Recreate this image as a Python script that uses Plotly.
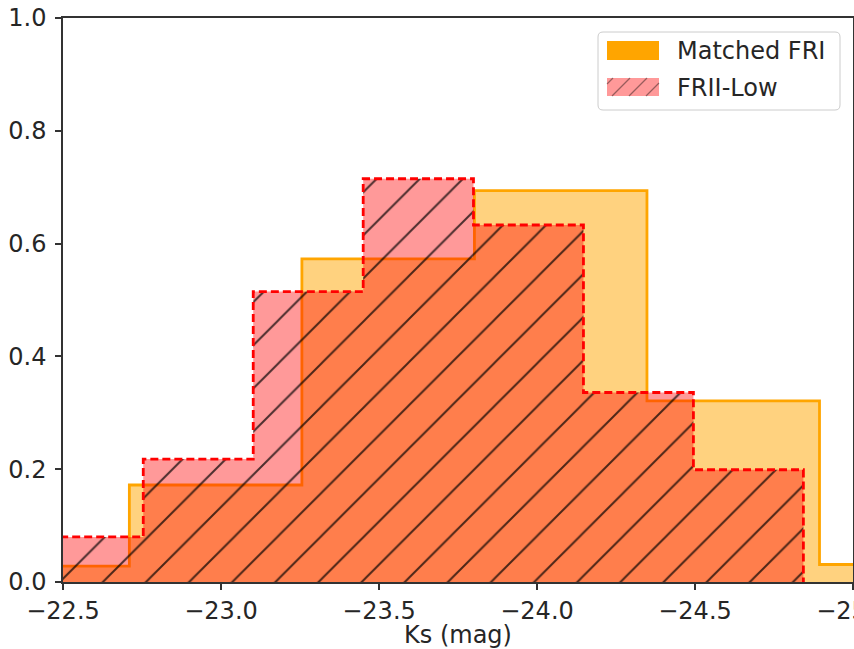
import plotly.graph_objects as go

# Ks-band magnitude distributions (density-normalised); bin edges in mag
fri_edges = [-22.164, -22.710, -23.256, -23.802, -24.348, -24.894, -25.440]
fri_density = [0.028, 0.172, 0.573, 0.694, 0.321, 0.031]

frii_edges = [-22.406, -22.754, -23.102, -23.450, -23.799, -24.147, -24.495, -24.843]
frii_density = [0.080, 0.218, 0.515, 0.715, 0.633, 0.336, 0.199]

series_names = ["Matched FRI", "FRII-Low"]

x_ticks = [-22.5, -23.0, -23.5, -24.0, -24.5, -25.0]
x_ticktext = ["−22.5", "−23.0", "−23.5", "−24.0", "−24.5", "−25.0"]
y_ticks = [0.0, 0.2, 0.4, 0.6, 0.8, 1.0]
y_ticktext = ["0.0", "0.2", "0.4", "0.6", "0.8", "1.0"]
x_title = "Ks (mag)"

ORANGE = "#FFA500"
ORANGE_FILL = "rgba(255,165,0,0.5)"
RED = "#FF0000"
RED_FILL = "rgba(255,0,0,0.4)"
AXIS = "#333333"
TEXT = "#262626"

# plot-area geometry in pixels (used for the hand-drawn legend)
W, H = 854, 649
ML, MR, MT, MB = 63, 1, 18, 67
PW, PH = W - ML - MR, H - MT - MB


def px(xp):
    return (xp - ML) / PW


def py(yp):
    return (MT + PH - yp) / PH


def step_outline(edges, heights):
    """Closed step polygon of a 'stepfilled' histogram."""
    xs = [edges[0]] + list(edges[:-1]) + [edges[-1]]
    ys = [0.0] + list(heights) + [0.0]
    return xs, ys


fig = go.Figure()

fx, fy = step_outline(fri_edges, fri_density)
fig.add_trace(go.Scatter(
    x=fx, y=fy, mode="lines", name=series_names[0],
    line=dict(shape="hv", color=ORANGE, width=2.8),
    fill="tozeroy", fillcolor=ORANGE_FILL,
    showlegend=False, hoverinfo="skip",
))

rx, ry = step_outline(frii_edges, frii_density)
fig.add_trace(go.Scatter(
    x=rx, y=ry, mode="lines", name=series_names[1],
    line=dict(shape="hv", color=RED, width=2.8, dash="8px,4px"),
    fill="tozeroy", fillcolor=RED_FILL,
    fillpattern=dict(shape="/", fgcolor="black", fgopacity=0.7,
                     bgcolor=RED_FILL, size=30.5, solidity=0.065),
    showlegend=False, hoverinfo="skip",
))

# legend box drawn by hand (wide patches, hatched swatch)
bx0, bx1, by0, by1, rr = 598, 840, 32, 110, 5
X0, X1, YT, YB = px(bx0), px(bx1), py(by0), py(by1)
dx, dy = rr / PW, rr / PH
box_path = (
    f"M{X0+dx},{YT} L{X1-dx},{YT} Q{X1},{YT} {X1},{YT-dy} "
    f"L{X1},{YB+dy} Q{X1},{YB} {X1-dx},{YB} "
    f"L{X0+dx},{YB} Q{X0},{YB} {X0},{YB+dy} "
    f"L{X0},{YT-dy} Q{X0},{YT} {X0+dx},{YT} Z"
)
shapes = [dict(type="path", path=box_path, xref="paper", yref="paper",
               fillcolor="rgba(255,255,255,0.8)",
               line=dict(color="#cccccc", width=1))]

patch_x0, patch_x1 = 607, 659
rows = [(41, 60), (78, 96)]
shapes.append(dict(type="rect", xref="paper", yref="paper",
                   x0=px(patch_x0), x1=px(patch_x1),
                   y0=py(rows[0][1]), y1=py(rows[0][0]),
                   fillcolor=ORANGE, line=dict(width=0)))
shapes.append(dict(type="rect", xref="paper", yref="paper",
                   x0=px(patch_x0), x1=px(patch_x1),
                   y0=py(rows[1][1]), y1=py(rows[1][0]),
                   fillcolor=RED_FILL, line=dict(width=0)))

# diagonal hatch inside the FRII-Low swatch, clipped to the swatch
top, bot = rows[1]
hgt = bot - top
for start in range(595, 665, 17):
    xa, ya = start, bot
    xb, yb = start + hgt, top
    if xa < patch_x0:
        ya = bot - (patch_x0 - xa)
        xa = patch_x0
    if xb > patch_x1:
        yb = top + (xb - patch_x1)
        xb = patch_x1
    if xb - xa < 2:
        continue
    shapes.append(dict(type="line", xref="paper", yref="paper",
                       x0=px(xa), y0=py(ya), x1=px(xb), y1=py(yb),
                       line=dict(color="rgba(0,0,0,0.4)", width=1.3)))

annotations = []
for name, (t, b) in zip(series_names, rows):
    annotations.append(dict(text=name, xref="paper", yref="paper",
                            x=px(675), y=py((t + b) / 2 + 0.5),
                            xanchor="left", yanchor="middle", showarrow=False,
                            font=dict(size=24, color=TEXT)))

fig.update_layout(
    width=W, height=H,
    margin=dict(l=ML, r=MR, t=MT, b=MB, autoexpand=False),
    paper_bgcolor="white", plot_bgcolor="white",
    font=dict(family="DejaVu Sans", size=24, color=TEXT),
    showlegend=False,
    shapes=shapes, annotations=annotations,
    xaxis=dict(
        range=[-22.5, -25.0], tickvals=x_ticks, ticktext=x_ticktext,
        ticks="outside", ticklen=6, tickwidth=1.5, tickcolor=AXIS,
        showline=True, linecolor=AXIS, linewidth=1.5, mirror=True,
        showgrid=False, zeroline=False, ticklabeloverflow="allow",
        automargin=False,
        title=dict(text=x_title, standoff=9, font=dict(size=24, color=TEXT)),
    ),
    yaxis=dict(
        range=[0, 1.0], tickvals=y_ticks, ticktext=y_ticktext,
        ticks="outside", ticklen=6, tickwidth=1.5, tickcolor=AXIS,
        showline=True, linecolor=AXIS, linewidth=1.5, mirror=True,
        showgrid=False, zeroline=False, ticklabelstandoff=4,
        automargin=False,
    ),
)

fig.write_html("out.html")
